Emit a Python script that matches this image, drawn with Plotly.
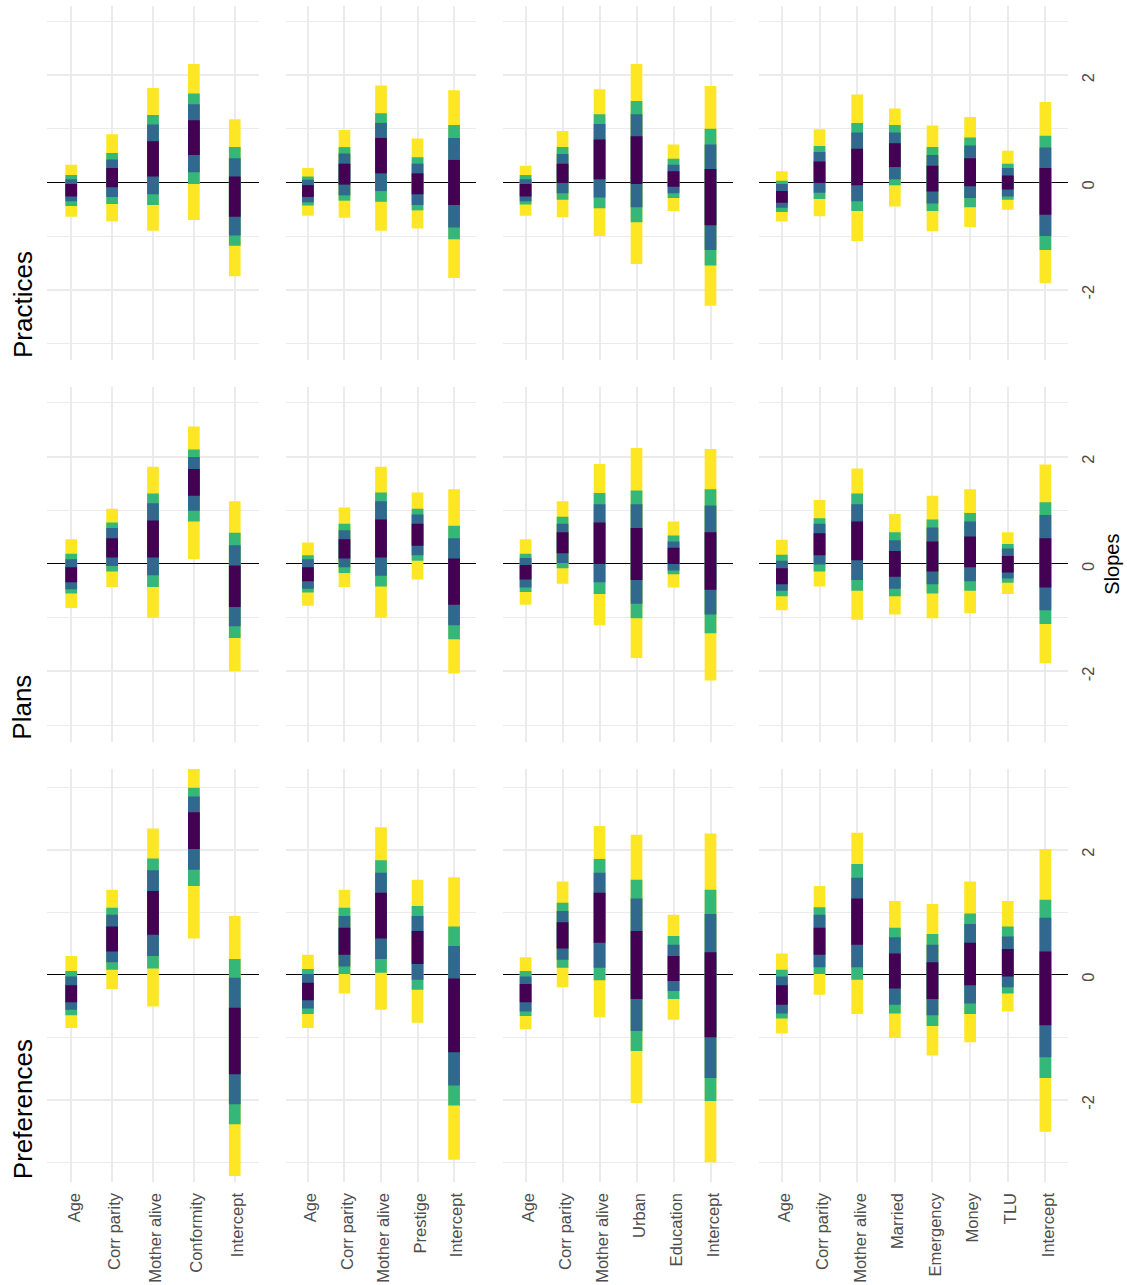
import plotly.graph_objects as go

# ---------------- data ----------------
cats_c1 = ["Age", "Corr parity", "Mother alive", "Conformity", "Intercept"]
cats_c2 = ["Age", "Corr parity", "Mother alive", "Prestige", "Intercept"]
cats_c3 = ["Age", "Corr parity", "Mother alive", "Urban", "Education", "Intercept"]
cats_c4 = ["Age", "Corr parity", "Mother alive", "Married", "Emergency", "Money", "TLU", "Intercept"]

row_labels = ["Practices", "Plans", "Preferences"]
level_colors = ["#FDE725", "#35B779", "#31688E", "#440154"]  # outer -> inner
y_ticks = [-2, 0, 2]

# per category: [outer_hi, mid2_hi, mid1_hi, inner_hi, inner_lo, mid1_lo, mid2_lo, outer_lo]
practices_c1 = [
    [0.33, 0.14, 0.06, -0.03, -0.26, -0.35, -0.44, -0.64],
    [0.90, 0.55, 0.43, 0.27, -0.09, -0.27, -0.40, -0.73],
    [1.76, 1.26, 1.08, 0.77, 0.11, -0.22, -0.42, -0.90],
    [2.21, 1.66, 1.46, 1.16, 0.51, 0.19, -0.03, -0.70],
    [1.18, 0.66, 0.45, 0.11, -0.64, -0.99, -1.18, -1.75],
]
practices_c2 = [
    [0.27, 0.11, 0.05, -0.05, -0.27, -0.37, -0.43, -0.62],
    [0.98, 0.66, 0.54, 0.35, -0.04, -0.24, -0.34, -0.66],
    [1.81, 1.29, 1.11, 0.83, 0.17, -0.16, -0.36, -0.90],
    [0.82, 0.47, 0.35, 0.17, -0.22, -0.42, -0.52, -0.86],
    [1.72, 1.07, 0.83, 0.42, -0.42, -0.84, -1.06, -1.78],
]
practices_c3 = [
    [0.31, 0.14, 0.06, -0.03, -0.26, -0.35, -0.41, -0.62],
    [0.96, 0.66, 0.53, 0.35, -0.01, -0.20, -0.32, -0.65],
    [1.74, 1.27, 1.09, 0.80, 0.06, -0.28, -0.48, -1.00],
    [2.21, 1.52, 1.27, 0.86, -0.03, -0.46, -0.74, -1.52],
    [0.71, 0.44, 0.33, 0.21, -0.08, -0.20, -0.29, -0.53],
    [1.80, 1.00, 0.71, 0.25, -0.80, -1.26, -1.55, -2.30],
]
practices_c4 = [
    [0.21, 0.03, -0.03, -0.16, -0.38, -0.47, -0.55, -0.73],
    [0.99, 0.68, 0.57, 0.39, -0.01, -0.19, -0.31, -0.63],
    [1.64, 1.11, 0.93, 0.63, -0.05, -0.35, -0.53, -1.09],
    [1.38, 1.07, 0.93, 0.73, 0.29, 0.06, -0.05, -0.45],
    [1.06, 0.66, 0.51, 0.31, -0.17, -0.39, -0.53, -0.91],
    [1.22, 0.84, 0.69, 0.45, -0.07, -0.29, -0.46, -0.83],
    [0.59, 0.35, 0.27, 0.13, -0.13, -0.26, -0.32, -0.51],
    [1.50, 0.87, 0.65, 0.27, -0.60, -1.00, -1.26, -1.88],
]

plans_c1 = [
    [0.46, 0.19, 0.09, -0.06, -0.34, -0.47, -0.55, -0.82],
    [1.03, 0.77, 0.67, 0.48, 0.12, -0.04, -0.14, -0.43],
    [1.81, 1.31, 1.13, 0.81, 0.12, -0.21, -0.43, -1.00],
    [2.56, 2.13, 1.99, 1.77, 1.27, 0.99, 0.79, 0.09],
    [1.17, 0.58, 0.35, -0.03, -0.80, -1.16, -1.38, -2.00],
]
plans_c2 = [
    [0.40, 0.16, 0.09, -0.06, -0.32, -0.46, -0.53, -0.78],
    [1.05, 0.75, 0.63, 0.46, 0.10, -0.06, -0.17, -0.43],
    [1.81, 1.33, 1.17, 0.83, 0.12, -0.22, -0.42, -1.00],
    [1.33, 1.03, 0.92, 0.75, 0.34, 0.16, 0.06, -0.29],
    [1.39, 0.71, 0.48, 0.10, -0.76, -1.14, -1.40, -2.04],
]
plans_c3 = [
    [0.46, 0.19, 0.11, -0.02, -0.29, -0.44, -0.52, -0.76],
    [1.17, 0.88, 0.75, 0.59, 0.20, 0.02, -0.08, -0.37],
    [1.86, 1.32, 1.11, 0.77, 0.00, -0.34, -0.56, -1.14],
    [2.16, 1.37, 1.11, 0.67, -0.30, -0.74, -1.01, -1.75],
    [0.79, 0.53, 0.42, 0.30, 0.00, -0.12, -0.19, -0.44],
    [2.14, 1.39, 1.09, 0.59, -0.48, -0.94, -1.29, -2.17],
]
plans_c4 = [
    [0.45, 0.17, 0.06, -0.08, -0.38, -0.50, -0.60, -0.86],
    [1.19, 0.85, 0.75, 0.57, 0.16, -0.01, -0.14, -0.42],
    [1.78, 1.31, 1.11, 0.79, 0.07, -0.30, -0.50, -1.04],
    [0.93, 0.59, 0.44, 0.24, -0.24, -0.46, -0.60, -0.94],
    [1.27, 0.83, 0.68, 0.42, -0.14, -0.38, -0.55, -1.01],
    [1.39, 0.95, 0.79, 0.51, -0.06, -0.32, -0.50, -0.92],
    [0.59, 0.37, 0.29, 0.15, -0.16, -0.27, -0.35, -0.56],
    [1.85, 1.15, 0.91, 0.48, -0.44, -0.86, -1.12, -1.85],
]

preferences_c1 = [
    [0.30, 0.06, -0.03, -0.17, -0.44, -0.56, -0.65, -0.85],
    [1.36, 1.07, 0.96, 0.77, 0.37, 0.20, 0.08, -0.23],
    [2.34, 1.86, 1.67, 1.34, 0.64, 0.30, 0.10, -0.51],
    [3.40, 2.99, 2.85, 2.60, 2.01, 1.68, 1.42, 0.58],
    [0.94, 0.25, -0.05, -0.53, -1.59, -2.07, -2.39, -3.22],
]
preferences_c2 = [
    [0.32, 0.09, 0.01, -0.13, -0.41, -0.54, -0.63, -0.85],
    [1.36, 1.07, 0.94, 0.75, 0.32, 0.13, 0.01, -0.30],
    [2.36, 1.83, 1.63, 1.31, 0.58, 0.25, 0.03, -0.56],
    [1.52, 1.10, 0.94, 0.70, 0.17, -0.08, -0.24, -0.77],
    [1.56, 0.77, 0.46, -0.06, -1.24, -1.77, -2.09, -2.96],
]
preferences_c3 = [
    [0.28, 0.06, -0.03, -0.15, -0.44, -0.59, -0.66, -0.87],
    [1.49, 1.15, 1.02, 0.84, 0.42, 0.24, 0.11, -0.20],
    [2.38, 1.85, 1.63, 1.31, 0.51, 0.11, -0.09, -0.68],
    [2.24, 1.52, 1.22, 0.70, -0.39, -0.90, -1.22, -2.05],
    [0.96, 0.62, 0.48, 0.30, -0.10, -0.26, -0.39, -0.72],
    [2.26, 1.36, 0.97, 0.36, -1.00, -1.65, -2.02, -3.00],
]
preferences_c4 = [
    [0.34, 0.08, -0.03, -0.17, -0.48, -0.62, -0.70, -0.94],
    [1.42, 1.08, 0.96, 0.75, 0.32, 0.12, 0.01, -0.32],
    [2.27, 1.77, 1.55, 1.22, 0.48, 0.12, -0.08, -0.63],
    [1.18, 0.75, 0.60, 0.34, -0.22, -0.48, -0.62, -1.01],
    [1.13, 0.65, 0.48, 0.20, -0.39, -0.65, -0.82, -1.29],
    [1.49, 0.98, 0.81, 0.51, -0.17, -0.46, -0.63, -1.08],
    [1.18, 0.77, 0.61, 0.41, -0.03, -0.20, -0.30, -0.59],
    [2.01, 1.20, 0.91, 0.37, -0.81, -1.32, -1.65, -2.51],
]

col_cats = [cats_c1, cats_c2, cats_c3, cats_c4]
panels = [
    [practices_c1, practices_c2, practices_c3, practices_c4],
    [plans_c1, plans_c2, plans_c3, plans_c4],
    [preferences_c1, preferences_c2, preferences_c3, preferences_c4],
]

# ---------------- layout geometry (pixels) ----------------
W, H = 1127, 1285
col_px = [(46.7, 259.3), (286.0, 476.0), (503.4, 732.7), (759.3, 1068.0)]
row_px = [(6.0, 360.0), (387.3, 741.7), (769.0, 1181.7)]  # top, bottom
Y_RANGE = [-3.31, 3.29]
GRID = "#EBEBEB"
TXT_GRAY = "#4D4D4D"
FONT = "Liberation Sans, Arial, sans-serif"

fig = go.Figure()
layout_axes = {}

for r in range(3):
    for c in range(4):
        k = r * 4 + c + 1
        xname = "x" if k == 1 else f"x{k}"
        yname = "y" if k == 1 else f"y{k}"
        cats = col_cats[c]
        data = panels[r][c]
        for lvl in range(4):
            xs, ys = [], []
            for cat, vals in zip(cats, data):
                hi = vals[lvl]
                lo = vals[7 - lvl]
                xs += [cat, cat, None]
                ys += [lo, hi, None]
            fig.add_trace(go.Scatter(
                x=xs, y=ys, mode="lines",
                line=dict(color=level_colors[lvl], width=11.7),
                xaxis=xname, yaxis=yname,
                showlegend=False, hoverinfo="skip", connectgaps=False,
            ))
        x0, x1 = col_px[c]
        t, b = row_px[r]
        xkey = "xaxis" if k == 1 else f"xaxis{k}"
        ykey = "yaxis" if k == 1 else f"yaxis{k}"
        layout_axes[xkey] = dict(
            domain=[x0 / W, x1 / W], anchor=yname,
            type="category", categoryorder="array", categoryarray=cats,
            range=[-0.6, len(cats) - 0.4],
            showgrid=True, gridcolor=GRID, gridwidth=1.7,
            zeroline=False, showline=False, ticks="",
            showticklabels=(r == 2), tickangle=-90,
            tickfont=dict(size=16.5, color=TXT_GRAY, family=FONT),
            ticklabelstandoff=7, ticklabelshift=3,
        )
        layout_axes[ykey] = dict(
            domain=[1 - b / H, 1 - t / H], anchor=xname,
            range=Y_RANGE, tickvals=y_ticks, ticktext=[str(v) for v in y_ticks],
            showgrid=True, gridcolor=GRID, gridwidth=1.7,
            minor=dict(dtick=1, tick0=0, showgrid=True, gridcolor=GRID, gridwidth=1.0),
            zeroline=True, zerolinecolor="#000000", zerolinewidth=1,
            showline=False, ticks="",
            showticklabels=(c == 3), side="right" if c == 3 else "left",
            tickangle=-90,
            tickfont=dict(size=16.5, color=TXT_GRAY, family=FONT),
            ticklabelstandoff=8, ticklabelshift=5,
        )

annotations = []
for r, lab in enumerate(row_labels):
    annotations.append(dict(
        text=lab, x=22.5 / W, y=1 - row_px[r][1] / H, xref="paper", yref="paper",
        xanchor="center", yanchor="bottom", textangle=-90, showarrow=False,
        font=dict(size=26, color="#000000", family=FONT),
    ))
annotations.append(dict(
    text="Slopes", x=1111.7 / W, y=1 - 564 / H, xref="paper", yref="paper",
    xanchor="center", yanchor="middle", textangle=-90, showarrow=False,
    font=dict(size=20, color="#000000", family=FONT),
))

fig.update_layout(
    width=W, height=H, margin=dict(l=0, r=0, t=0, b=0),
    paper_bgcolor="white", plot_bgcolor="white",
    font=dict(family=FONT),
    annotations=annotations,
    **layout_axes,
)

fig.write_html("out.html")
